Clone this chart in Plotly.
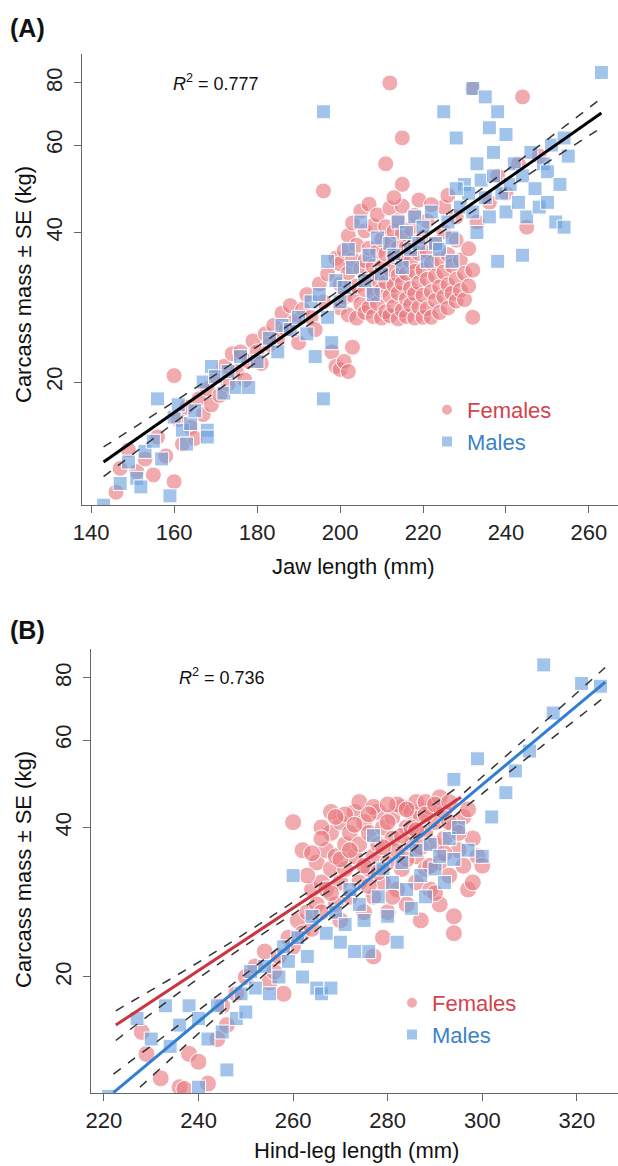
import plotly.graph_objects as go
import math

# ---- panel A : jaw length vs carcass mass ----
a_fem_x = [146, 147, 149, 151, 153, 155, 156, 158, 160, 160, 161, 162, 163, 164, 165, 166, 167, 168, 169, 170,
           171, 172, 173, 174, 175, 176, 177, 178, 179, 180, 181, 182, 183, 184, 185, 186, 187, 188, 189, 190,
           191, 192, 193, 194, 195, 196, 197, 198, 199, 200, 201, 202, 203, 196, 199,
           200, 200, 200, 201, 201, 202, 202, 202, 203, 203, 203, 204, 204, 204, 205, 205, 205, 206, 206, 206,
           206, 207, 207, 207, 207, 208, 208, 208, 208, 209, 209, 209, 209, 210, 210, 210, 210, 211, 211, 211,
           211, 212, 212, 212, 212, 212, 213, 213, 213, 213, 214, 214, 214, 214, 214, 215, 215, 215, 215, 215,
           216, 216, 216, 216, 217, 217, 217, 217, 218, 218, 218, 218, 218, 219, 219, 219, 220, 220, 220, 220,
           221, 221, 221, 221, 222, 222, 222, 223, 223, 223, 224, 224, 224, 225, 225, 225, 226, 226, 226, 227,
           227, 228, 228, 228, 229, 229, 230, 230, 231, 231, 232, 232,
           211, 212, 215, 215, 213, 219, 225, 228, 232, 244, 245, 240, 243, 236, 233, 248, 238, 226, 222]
a_fem_y = [12.0, 13.4, 14.6, 13.2, 14.0, 13.0, 15.5, 14.2, 12.6, 20.6, 16.8, 15.0, 17.8, 16.2, 15.4, 18.5, 17.2,
           19.4, 18.0, 20.5, 18.8, 21.5, 19.8, 22.8, 21.0, 23.0, 20.2, 22.0, 24.2, 23.0, 21.8, 25.0, 23.8, 26.0,
           24.5, 27.5, 25.5, 28.5, 26.5, 24.0, 28.0, 30.0, 27.0, 25.5, 31.5, 29.0, 33.0, 23.0, 21.5, 21.2, 22.0,
           21.0, 23.5, 48.5, 35.5,
           28.2, 31.5, 34.6, 29.6, 36.8, 27.3, 33.2, 39.4, 29.9, 35.3, 41.8, 26.9, 31.2, 37.7, 28.7, 33.8, 44.2,
           27.6, 30.7, 35.1, 40.3, 28.3, 32.4, 37.2, 45.6, 27.1, 30.3, 34.2, 41.3, 28.8, 32.1, 36.7, 43.4, 26.9,
           30.6, 34.1, 38.7, 27.7, 31.8, 36.2, 41.1, 27.2, 29.8, 33.7, 38.3, 44.8, 28.4, 31.3, 35.8, 40.2, 26.8,
           30.2, 32.8, 37.3, 42.3, 27.9, 31.6, 35.2, 39.8, 45.2, 27.1, 29.4, 33.1, 37.4, 28.6, 30.9, 34.9, 40.7,
           26.9, 30.1, 33.4, 38.2, 43.3, 28.3, 31.7, 36.3, 27.0, 29.9, 33.6, 39.2, 28.1, 32.2, 36.6, 42.2, 27.0,
           30.4, 34.7, 29.2, 32.7, 38.1, 27.6, 31.1, 35.3, 29.7, 33.3, 40.1, 28.2, 31.4, 36.1, 30.2, 34.3, 29.1,
           32.2, 38.6, 30.6, 35.2, 29.3, 33.1, 31.2, 37.1, 33.6, 27.0,
           55.0, 80.0, 62.0, 50.0, 47.0, 46.5, 45.0, 43.0, 78.0, 75.0, 41.0, 48.0, 55.0, 46.0, 42.0, 57.0, 52.0,
           47.5, 45.5]

a_mal_x = [143, 147, 149, 151, 152, 153, 155, 156, 157, 159, 160, 161, 162, 163, 164, 165, 167, 168, 168, 169,
           170, 172, 173, 175, 176, 178, 180, 183, 185, 186, 188, 190, 192, 193, 194, 195, 196, 196, 197, 197,
           198, 199, 200, 201, 202, 203, 205, 206, 207, 208, 209, 210, 212, 213, 214, 215, 216, 217, 218, 219,
           220, 221, 222, 223, 224, 225, 226, 227, 228, 229, 230, 231, 232, 232, 233, 234, 235, 235, 236, 236,
           237, 237, 238, 238, 239, 240, 240, 241, 242, 243, 244, 244, 245, 246, 247, 248, 249, 250, 250, 251,
           252, 253, 254, 254, 255, 263, 228, 233, 227]
a_mal_y = [11.3, 12.5, 13.8, 12.8, 12.3, 14.5, 15.2, 18.5, 14.0, 11.8, 17.0, 18.0, 16.0, 15.0, 16.5, 17.5, 20.0,
           16.0, 15.5, 21.5, 20.5, 19.0, 21.0, 19.5, 22.5, 19.5, 22.0, 24.5, 23.0, 26.0, 25.5, 27.0, 25.0, 29.0,
           22.5, 30.0, 18.5, 70.0, 27.0, 35.0, 24.0, 32.0, 29.0, 31.0, 37.0, 34.0, 42.0, 32.0, 36.0, 30.0, 39.0,
           33.0, 38.0, 36.0, 42.0, 34.0, 40.0, 37.0, 43.0, 38.0, 41.0, 35.0, 44.0, 38.0, 37.0, 70.0, 42.0, 39.0,
           62.0, 45.0, 50.0, 48.0, 44.0, 78.0, 40.0, 51.0, 75.0, 47.0, 65.0, 43.0, 58.0, 52.0, 70.0, 35.0, 48.0,
           63.0, 44.0, 50.0, 55.0, 46.0, 52.0, 36.0, 43.0, 58.0, 49.0, 45.0, 55.0, 46.0, 53.0, 60.0, 42.0, 50.0,
           41.0, 62.0, 57.0, 84.0, 49.0, 55.0, 35.0]

a_fit_x = [143, 263]
a_fit_y = [13.8, 69.6]
a_ci_x = [143, 170, 205, 235, 263]
a_ci_hi = [14.8, 20.7, 32.8, 49.6, 74.5]
a_ci_lo = [12.9, 19.1, 30.9, 45.9, 65.0]

# ---- panel B : hind-leg length vs carcass mass ----
b_fem_x = [228, 229, 232, 236, 237, 238, 240, 242, 244, 245, 246, 248, 250, 252, 254, 255, 256, 257, 258, 259,
           260, 260, 261, 262, 263, 264, 264, 265, 265, 266, 266, 267, 267, 268, 268, 269, 269, 270, 270, 270,
           271, 271, 272, 272, 273, 273, 274, 274, 275, 275, 276, 276, 277, 277, 278, 278, 279, 279, 280, 280,
           281, 281, 282, 282, 283, 283, 284, 284, 285, 285, 286, 286, 287, 287, 288, 288, 289, 289, 290, 290,
           291, 291, 292, 292, 293, 294, 294, 294, 295, 296, 297, 298, 299, 300, 266, 268, 274, 277, 279, 282,
           286, 262, 263, 271, 276, 280, 288, 291, 277,
           264, 266, 268, 269, 270, 272, 273, 275, 276, 278, 279, 280, 281, 283, 284, 285, 287, 288, 289, 290,
           292, 293, 295, 296, 297, 298, 284, 286, 290, 293]
b_fem_y = [15.5, 14.0, 12.5, 12.0, 11.9, 14.0, 13.5, 12.2, 15.0, 17.5, 16.0, 18.5, 20.0, 21.0, 22.5, 19.5, 20.5,
           22.0, 18.5, 24.0, 23.0, 41.0, 26.0, 24.5, 27.0, 25.0, 30.0, 28.0, 34.0, 31.0, 27.0, 36.0, 30.0, 33.0,
           39.0, 28.0, 35.0, 31.0, 41.0, 26.0, 37.0, 33.0, 29.0, 39.0, 35.0, 43.0, 31.0, 37.0, 27.0, 41.0, 33.0,
           39.0, 35.0, 29.0, 43.0, 37.0, 31.0, 40.0, 34.0, 27.0, 42.0, 38.0, 30.0, 36.0, 44.0, 33.0, 40.0, 28.0,
           37.0, 43.0, 31.0, 35.0, 42.0, 26.0, 39.0, 33.0, 44.0, 30.0, 37.0, 41.0, 34.0, 28.0, 43.0, 38.0, 32.0,
           40.0, 24.5, 26.5, 36.0, 42.0, 30.0, 38.0, 35.0, 33.5, 40.0, 43.0, 45.0, 44.0, 24.0, 44.5, 45.0, 36.0,
           32.0, 42.5, 42.5, 44.5, 45.0, 46.0, 22.0,
           35.5, 38.0, 29.5, 42.0, 34.5, 36.0, 40.5, 33.5, 30.5, 32.5, 36.5, 41.0, 29.0, 38.5, 34.5, 40.0, 36.5,
           42.5, 33.5, 44.5, 35.5, 41.0, 39.0, 33.5, 43.5, 31.0, 43.5, 39.5, 29.5, 45.0]

b_mal_x = [221, 227, 230, 233, 234, 236, 238, 240, 240, 242, 244, 245, 246, 248, 249, 250, 251, 252, 254, 255,
           257, 258, 259, 260, 261, 262, 263, 264, 265, 266, 267, 268, 269, 270, 271, 272, 273, 274, 275, 276,
           277, 278, 279, 280, 281, 282, 283, 284, 285, 286, 287, 288, 289, 290, 291, 292, 293, 294, 294, 295,
           297, 299, 300, 302, 305, 307, 310, 313, 315, 321, 325]
b_mal_y = [11.5, 16.5, 15.0, 17.5, 14.5, 16.0, 17.5, 12.0, 16.5, 15.0, 17.5, 15.5, 13.0, 16.5, 18.5, 17.0, 20.5,
           19.0, 21.0, 18.5, 20.0, 23.0, 21.5, 32.0, 24.0, 20.0, 22.0, 26.5, 19.0, 18.5, 24.5, 19.0, 27.0, 23.5,
           25.5, 30.0, 22.5, 28.0, 26.0, 22.5, 38.5, 29.0, 33.0, 26.5, 31.0, 23.5, 34.0, 30.0, 27.5, 36.0, 32.0,
           29.0, 37.0, 33.0, 35.0, 31.0, 38.0, 50.0, 34.5, 40.0, 36.0, 55.0, 35.0, 42.0, 47.0, 52.0, 57.0, 85.0,
           68.0, 78.0, 77.0]

b_fem_fit_x = [222.5, 295.5]
b_fem_fit_y = [16.0, 46.0]
b_fem_ci_x = [222.5, 245, 270, 295.5]
b_fem_ci_hi = [17.1, 22.9, 32.8, 48.8]
b_fem_ci_lo = [14.9, 21.5, 30.8, 43.4]

b_mal_fit_x = [222, 326]
b_mal_fit_y = [11.7, 78.5]
b_mal_ci_x = [222, 250, 275, 300, 326]
b_mal_ci_hi = [12.75, 20.3, 31.7, 50.6, 84.0]
b_mal_ci_lo = [10.7, 18.75, 29.9, 46.8, 73.4]

W, H = 618, 1166
FONT = "Liberation Sans, Arial, sans-serif"
RED_PT = "rgba(232,120,126,0.62)"
BLUE_PT = "rgba(105,160,222,0.62)"
RED_TXT = "#d4434c"
BLUE_TXT = "#3a82c8"


def px(v, total):
    return v / total


fig = go.Figure()


def points(x, y, color, symbol, size, name, xa, ya, leg):
    fig.add_trace(go.Scatter(
        x=x, y=y, mode="markers", name=name, xaxis=xa, yaxis=ya, legend=leg,
        marker=dict(color=color, symbol=symbol, size=size, line=dict(color="white", width=1))))


def line(x, y, color, width, dash, xa, ya):
    fig.add_trace(go.Scatter(x=x, y=y, mode="lines", xaxis=xa, yaxis=ya, showlegend=False,
                             line=dict(color=color, width=width, dash=dash, shape="spline")))


points(a_fem_x, a_fem_y, RED_PT, "circle", 16, "<span style='color:%s'>Females</span>" % RED_TXT, "x", "y", "legend")
points(a_mal_x, a_mal_y, BLUE_PT, "square", 14, "<span style='color:%s'>Males</span>" % BLUE_TXT, "x", "y", "legend")
line(a_ci_x, a_ci_hi, "#333", 1.5, "dash", "x", "y")
line(a_ci_x, a_ci_lo, "#333", 1.5, "dash", "x", "y")
line(a_fit_x, a_fit_y, "black", 3, "solid", "x", "y")

points(b_fem_x, b_fem_y, RED_PT, "circle", 17, "<span style='color:%s'>Females</span>" % RED_TXT, "x2", "y2", "legend2")
points(b_mal_x, b_mal_y, BLUE_PT, "square", 14, "<span style='color:%s'>Males</span>" % BLUE_TXT, "x2", "y2", "legend2")
for hi, lo, cx in [(b_fem_ci_hi, b_fem_ci_lo, b_fem_ci_x), (b_mal_ci_hi, b_mal_ci_lo, b_mal_ci_x)]:
    line(cx, hi, "#333", 1.5, "dash", "x2", "y2")
    line(cx, lo, "#333", 1.5, "dash", "x2", "y2")
line(b_fem_fit_x, b_fem_fit_y, "#cc3440", 3, "solid", "x2", "y2")
line(b_mal_fit_x, b_mal_fit_y, "#2f7fd2", 3, "solid", "x2", "y2")

ax = dict(showline=True, linecolor="#666", linewidth=1.3, ticks="outside", ticklen=7, tickcolor="#666",
          tickwidth=1.2, showgrid=False, zeroline=False, automargin=False,
          tickfont=dict(family=FONT, size=22, color="#222"))

fig.update_layout(
    width=W, height=H, margin=dict(l=0, r=0, t=0, b=0, pad=0, autoexpand=False),
    plot_bgcolor="white", paper_bgcolor="white",
    xaxis=dict(ax, domain=[px(82, W), 1], range=[137.8, 267], tickvals=[140, 160, 180, 200, 220, 240, 260], anchor="y"),
    yaxis=dict(ax, domain=[1 - px(505, H), 1 - px(54, H)], type="log", range=[math.log10(11.31), math.log10(91.5)],
               tickvals=[20, 40, 60, 80], tickangle=-90, ticklabelstandoff=3, anchor="x"),
    xaxis2=dict(ax, domain=[px(90.7, W), 1], range=[217.2, 328.7], tickvals=[220, 240, 260, 280, 300, 320], anchor="y2"),
    yaxis2=dict(ax, domain=[1 - px(1093, H), 1 - px(649, H)], type="log", range=[math.log10(11.68), math.log10(91.5)],
                tickvals=[20, 40, 60, 80], tickangle=-90, ticklabelstandoff=3, anchor="x2"),
    legend=dict(x=px(427, W), y=1 - px(389, H), xanchor="left", yanchor="top", bgcolor="rgba(0,0,0,0)",
                font=dict(family=FONT, size=22), itemsizing="constant"),
    legend2=dict(x=px(392, W), y=1 - px(982, H), xanchor="left", yanchor="top", bgcolor="rgba(0,0,0,0)",
                 font=dict(family=FONT, size=22), itemsizing="constant"),
)

notes = [
    ("<b>(A)</b>", 8, 28, 0, 25, "left"),
    ("<b>(B)</b>", 8, 630, 0, 25, "left"),
    ("<i>R</i><sup>2</sup> = 0.777", 171, 83, 0, 18, "left"),
    ("<i>R</i><sup>2</sup> = 0.736", 177, 676, 0, 18, "left"),
    ("Jaw length (mm)", 353, 566, 0, 22, "center"),
    ("Hind-leg length (mm)", 356, 1150, 0, 22, "center"),
    ("Carcass mass \u00b1 SE (kg)", 23, 285, -90, 22, "center"),
    ("Carcass mass \u00b1 SE (kg)", 23, 870, -90, 22, "center"),
]
for txt, xx, yy, ang, sz, anc in notes:
    fig.add_annotation(text=txt, xref="paper", yref="paper", x=px(xx, W), y=1 - px(yy, H), showarrow=False,
                       xanchor=anc, yanchor="middle", textangle=ang, font=dict(family=FONT, size=sz, color="#111"))

# the page body has a default 8px margin; drop it so the figure fills the window
fig.write_html("out.html", config={"displayModeBar": False},
               post_script="document.body.style.margin='0';")
